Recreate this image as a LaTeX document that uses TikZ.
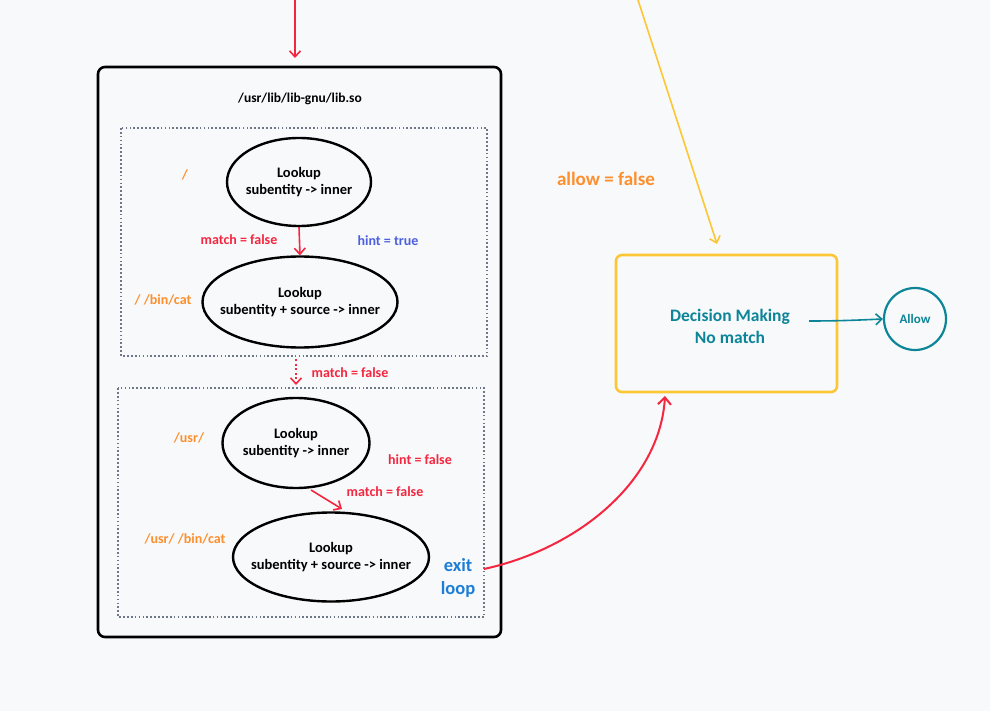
\documentclass[tikz,border=0pt]{standalone}
\usepackage{fontspec}
\setmainfont{Carlito}
\usetikzlibrary{arrows.meta,shapes.geometric}
\definecolor{bg}{HTML}{F8F9FA}
\definecolor{rd}{HTML}{F5263F}
\definecolor{og}{HTML}{FD8F2F}
\definecolor{bl}{HTML}{4C5FE0}
\definecolor{bl2}{HTML}{1C7ED6}
\definecolor{tl}{HTML}{0C8599}
\definecolor{yl}{HTML}{FCC635}
\definecolor{gr}{HTML}{6E7787}
\tikzset{
  ell/.style={draw=black,line width=2.4pt,ellipse,minimum width=#1,inner sep=0pt},
  etext/.style={align=center,inner sep=0pt,font=\bfseries\fontsize{14.5}{16.5}\selectfont},
  dotbox/.style={draw=gr,line width=1.9pt,dash pattern=on 1.7pt off 2.2pt},
  lbl/.style={font=\bfseries\fontsize{14}{16}\selectfont,inner sep=0pt},
  arr/.style={line width=1.6pt,-{Straight Barb[length=6pt,width=11pt,line width=1.6pt]}},
}
\begin{document}
\begin{tikzpicture}[x=1pt,y=-1pt]
\useasboundingbox (0,0) rectangle (990,711);
\fill[bg] (0,0) rectangle (990,711);
% outer box
\draw[line width=2.6pt,rounded corners=7pt] (98,67) rectangle (501,637);
\node[lbl,font=\bfseries\fontsize{13.5}{16}\selectfont] (title) at (300,99) {/usr/lib/lib-gnu/lib.so};
\draw[dotbox] (121,128) rectangle (487,356);
\draw[dotbox] (118,388) rectangle (484,617);
\coordinate (b1s) at (296,359);
\coordinate (b2n) at (296,385);
% ellipses
\node[ell=144pt,minimum height=88pt] (e1) at (299,182) {};
\node[etext] (t1) at (e1) {Lookup\\subentity -> inner};
\node[ell=195pt,minimum height=91pt] (e2) at (300,302) {};
\node[etext] (t2) at (e2) {Lookup\\subentity + source -> inner};
\node[ell=147pt,minimum height=90pt] (e3) at (296,443) {};
\node[etext] (t3) at (e3) {Lookup\\subentity -> inner};
\node[ell=196pt,minimum height=89pt] (e4) at (331,557) {};
\node[etext] (t4) at (e4) {Lookup\\subentity + source -> inner};
% labels
\node[lbl,text=og] (l1) at (185,175) {/};
\node[lbl,text=og] (l2) at (163,300) {/ /bin/cat};
\node[lbl,text=og] (l3) at (189,438) {/usr/};
\node[lbl,text=og] (l4) at (185,539) {/usr/ /bin/cat};
\node[lbl,text=rd] (m1) at (239,240) {match = false};
\node[lbl,text=bl] (h1) at (388,241) {hint = true};
\node[lbl,text=rd] (m2) at (350,373) {match = false};
\node[lbl,text=rd] (h2) at (420,460) {hint = false};
\node[lbl,text=rd] (m3) at (385,492) {match = false};
\node[align=center,text=bl2,font=\bfseries\fontsize{18.5}{23}\selectfont,inner sep=0pt] (ex) at (458,578) {exit\\loop};
% arrows inside
\coordinate (top) at (295,0);
\coordinate (boxn) at (295,58);
\draw[arr,rd] (top) -- (boxn);
\draw[arr,rd] (e1.south) -- (e2.north);
\draw[arr,rd,dash pattern=on 2pt off 2.5pt] (b1s) -- (b2n);
\coordinate (a3s) at (311,490);
\coordinate (a4n) at (342,509);
\draw[arr,rd] (a3s) -- (a4n);
% right side
\node[lbl,text=og,font=\bfseries\fontsize{19}{22}\selectfont] (allow) at (606,179) {allow = false};
\draw[yl,line width=2.6pt,rounded corners=6pt] (616,255) rectangle (837,392);
\node[align=center,text=tl,font=\bfseries\fontsize{17.5}{22}\selectfont,inner sep=0pt] (dm) at (730,326) {Decision Making\\No match};
\coordinate (ytop) at (638,0);
\coordinate (ybox) at (717,244);
\draw[arr,yl] (ytop) -- (ybox);
\node[circle,draw=tl,line width=2.2pt,minimum size=62pt,inner sep=0pt,text=tl,font=\bfseries\fontsize{13}{15}\selectfont] (al) at (915,319) {Allow};
\coordinate (dmr) at (809,321);
\draw[arr,tl] (dmr) .. controls (840,321) and (860,320) .. (al.west);
\coordinate (exs) at (484,569);
\coordinate (dmb) at (665,396);
\draw[rd,line width=2pt,-{Straight Barb[length=7pt,width=13pt,line width=2pt]}] (exs) .. controls (580,548) and (660,480) .. (dmb);
\end{tikzpicture}
\end{document}
